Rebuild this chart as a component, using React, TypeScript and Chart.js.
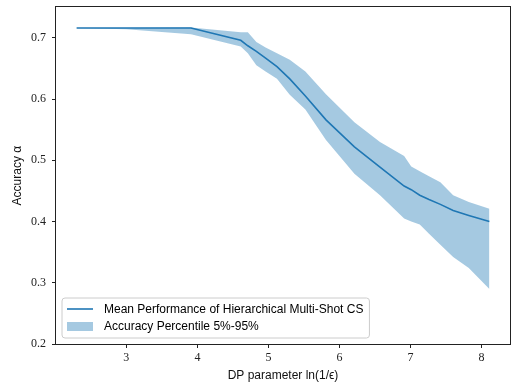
import React, { useEffect, useRef } from "react";
import { Chart, registerables } from "chart.js";

Chart.register(...registerables);

// DP parameter ln(1/eps)
const xValues = [2.3, 3.0, 3.91, 4.61, 4.71, 4.83, 4.96, 5.12, 5.3, 5.52, 5.81, 6.21, 6.57, 6.91, 7.01, 7.13, 7.26, 7.42, 7.6, 7.82, 8.11];
const meanValues = [0.716, 0.716, 0.716, 0.696, 0.687, 0.678, 0.667, 0.653, 0.633, 0.605, 0.566, 0.522, 0.489, 0.458, 0.452, 0.443, 0.436, 0.428, 0.418, 0.41, 0.4];
const upperValues = [0.716, 0.716, 0.717, 0.709, 0.709, 0.693, 0.684, 0.675, 0.664, 0.645, 0.608, 0.562, 0.53, 0.507, 0.49, 0.482, 0.474, 0.464, 0.443, 0.432, 0.421];
const lowerValues = [0.716, 0.714, 0.706, 0.686, 0.675, 0.655, 0.645, 0.633, 0.607, 0.583, 0.533, 0.478, 0.443, 0.405, 0.4, 0.395, 0.38, 0.362, 0.342, 0.324, 0.29];

const xTicks = [3, 4, 5, 6, 7, 8];
const yTicks = [0.2, 0.3, 0.4, 0.5, 0.6, 0.7];

const lineLabel = "Mean Performance of Hierarchical Multi-Shot CS";
const bandLabel = "Accuracy Percentile 5%-95%";
const xTitle = "DP parameter ln(1/\u03F5)";
const yTitle = "Accuracy \u03B1";

const BLUE = "#1f77b4";
const BAND = "rgba(31,119,180,0.4)";
const SANS = "'Liberation Sans', 'DejaVu Sans', Arial, sans-serif";
const SERIF = "'Liberation Serif', 'Times New Roman', serif";

const SHIFT = 6;
const W = 519;
const H = 388 + SHIFT;

const framePlugin = {
  id: "frameAndLegend",
  afterDraw(chart: any) {
    const { ctx, chartArea } = chart;
    const { left, right, top, bottom } = chartArea;
    ctx.save();
    // spines
    ctx.strokeStyle = "#222";
    ctx.lineWidth = 1;
    ctx.strokeRect(Math.round(left) - 0.5, Math.round(top) - 0.5, Math.round(right - left) + 1, Math.round(bottom - top) + 1);

    // legend
    const bx = left + 6;
    const by = bottom - 46;
    ctx.font = `12px ${SANS}`;
    const tw = Math.max(ctx.measureText(lineLabel).width, ctx.measureText(bandLabel).width);
    const bw = 42 + tw + 6;
    const bh = 40;
    const r = 3;
    ctx.beginPath();
    ctx.moveTo(bx + r, by);
    ctx.lineTo(bx + bw - r, by);
    ctx.arcTo(bx + bw, by, bx + bw, by + r, r);
    ctx.lineTo(bx + bw, by + bh - r);
    ctx.arcTo(bx + bw, by + bh, bx + bw - r, by + bh, r);
    ctx.lineTo(bx + r, by + bh);
    ctx.arcTo(bx, by + bh, bx, by + bh - r, r);
    ctx.lineTo(bx, by + r);
    ctx.arcTo(bx, by, bx + r, by, r);
    ctx.closePath();
    ctx.fillStyle = "rgba(255,255,255,0.8)";
    ctx.fill();
    ctx.strokeStyle = "#cccccc";
    ctx.lineWidth = 1;
    ctx.stroke();

    const y1 = by + 11;
    const y2 = by + 28.5;
    ctx.strokeStyle = BLUE;
    ctx.lineWidth = 1.6;
    ctx.beginPath();
    ctx.moveTo(bx + 5, y1);
    ctx.lineTo(bx + 31, y1);
    ctx.stroke();
    ctx.fillStyle = BAND;
    ctx.fillRect(bx + 5, y2 - 4.5, 26, 9);

    ctx.fillStyle = "#000";
    ctx.textBaseline = "middle";
    ctx.textAlign = "left";
    ctx.fillText(lineLabel, bx + 42, y1 + 0.5);
    ctx.fillText(bandLabel, bx + 42, y2 + 0.5);
    ctx.restore();
  },
};

export default function App() {
  const canvasRef = useRef<HTMLCanvasElement | null>(null);

  useEffect(() => {
    if (!canvasRef.current) return;
    const pts = (ys: number[]) => xValues.map((x, i) => ({ x, y: ys[i] }));
    const chart = new Chart(canvasRef.current, {
      type: "line",
      data: {
        datasets: [
          {
            label: lineLabel,
            data: pts(meanValues),
            borderColor: BLUE,
            borderWidth: 1.6,
            pointRadius: 0,
            fill: false,
            tension: 0,
          },
          {
            label: "lower",
            data: pts(lowerValues),
            borderWidth: 0,
            borderColor: "rgba(0,0,0,0)",
            pointRadius: 0,
            fill: false,
          },
          {
            label: bandLabel,
            data: pts(upperValues),
            borderWidth: 0,
            borderColor: "rgba(0,0,0,0)",
            backgroundColor: BAND,
            pointRadius: 0,
            fill: 1,
          },
        ],
      },
      options: {
        animation: false,
        responsive: false,
        maintainAspectRatio: false,
        layout: { padding: { top: 0, right: 9, left: 0, bottom: 0 } },
        plugins: {
          legend: { display: false },
          tooltip: { enabled: false },
        },
        scales: {
          x: {
            type: "linear",
            min: 2.01,
            max: 8.4,
            afterFit: (s: any) => {
              s.height = 44;
            },
            afterBuildTicks: (s: any) => {
              s.ticks = xTicks.map((v) => ({ value: v }));
            },
            grid: { drawOnChartArea: false, drawTicks: true, tickLength: 4, color: "#222" },
            border: { display: false },
            ticks: {
              color: "#222",
              padding: 3,
              maxRotation: 0,
              font: { family: SERIF, size: 12 },
              callback: (v: any) => String(v),
            },
            title: {
              display: true,
              text: xTitle,
              color: "#111",
              font: { family: SANS, size: 12 },
              padding: { top: 0, bottom: 5 },
            },
          },
          y: {
            type: "linear",
            min: 0.2,
            max: 0.75,
            afterFit: (s: any) => {
              s.width = 56;
            },
            afterBuildTicks: (s: any) => {
              s.ticks = yTicks.map((v) => ({ value: v }));
            },
            grid: { drawOnChartArea: false, drawTicks: true, tickLength: 4, color: "#222" },
            border: { display: false },
            ticks: {
              color: "#222",
              padding: 6,
              font: { family: SERIF, size: 12 },
              callback: (v: any) => Number(v).toFixed(1),
            },
            title: {
              display: true,
              text: yTitle,
              color: "#111",
              font: { family: SANS, size: 12 },
              padding: { top: 10, bottom: 0 },
            },
          },
        },
      },
      plugins: [framePlugin],
    });
    return () => chart.destroy();
  }, []);

  return (
    <div style={{ position: "fixed", left: 0, top: -SHIFT, width: W, height: H, background: "#fff" }}>
      <canvas ref={canvasRef} width={W} height={H} style={{ width: W, height: H, display: "block" }} />
    </div>
  );
}
